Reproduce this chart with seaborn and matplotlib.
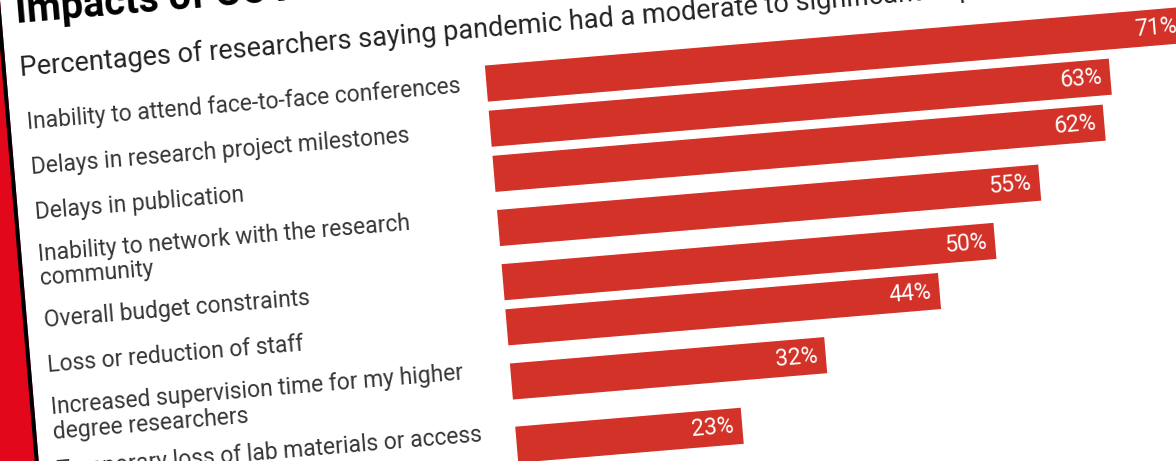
import matplotlib
matplotlib.use("Agg")
import matplotlib.pyplot as plt
import seaborn as sns
from matplotlib.transforms import Affine2D, blended_transform_factory
from matplotlib.patches import Rectangle

# ---------------- data ----------------
title = "Impacts of COVID-19 on research"
subtitle = ("Percentages of researchers saying pandemic had a moderate to "
            "significant impact on their research")
categories = [
    "Inability to attend face-to-face conferences",
    "Delays in research project milestones",
    "Delays in publication",
    "Inability to network with the research\ncommunity",
    "Overall budget constraints",
    "Loss or reduction of staff",
    "Increased supervision time for my higher\ndegree researchers",
    "Temporary loss of lab materials or access\nto facilities",
]
values = [71, 63, 62, 55, 50, 44, 32, 23]

# ---------------- style ----------------
W, H = 1176, 461
ANGLE = 4.8                     # the photographed screen is slightly tilted
BG_RED = "#E2071A"
BAR_RED = "#D33228"
LABEL_COL = "#363636"

sns.set_theme(style="white")
plt.rcParams["font.family"] = ["Roboto", "DejaVu Sans"]

# row layout: rows with wrapped labels get extra room
extra = [c.count("\n") for c in categories]
positions = [0.0]
for i in range(1, len(categories)):
    positions.append(positions[-1] + 1 + 0.2 * (extra[i - 1] + extra[i]))

fig = plt.figure(figsize=(W / 100, H / 100), dpi=100, facecolor=BG_RED)
rot = Affine2D().rotate_deg_around(0, H, ANGLE)

# background frame axes (pixel coords of the un-tilted chart)
bg = fig.add_axes([0, 0, 1, 1])
bg.set_xlim(0, W)
bg.set_ylim(H, 0)
bg.axis("off")
bg.patch.set_visible(False)
bg.add_patch(Rectangle((0, -800), 3000, 3000, facecolor="white",
                       edgecolor="none", transform=bg.transData + rot))
bg.add_patch(Rectangle((-4, -800), 4, 3000, facecolor="black",
                       edgecolor="none", transform=bg.transData + rot))

bg.text(14, 24, title, transform=bg.transData + rot, rotation=ANGLE,
        rotation_mode="anchor", ha="left", va="baseline", fontsize=28.5,
        fontweight="bold", color="black")
bg.text(14, 77.5, subtitle, transform=bg.transData + rot, rotation=ANGLE,
        rotation_mode="anchor", ha="left", va="baseline", fontsize=19.5,
        color="#222222")

# bar axes
unit = 45.3          # px per row unit
row0 = 124.0         # centre of the first row (px from top)
left_px = 477.0
px_per_pct = 9.9
n_units = positions[-1] + 1
top_u = row0 - 0.5 * unit
height_px = n_units * unit
bottom_disp = H - (top_u + height_px)
ax = fig.add_axes([left_px / W, bottom_disp / H,
                   100 * px_per_pct / W, height_px / H])
ax.patch.set_visible(False)

sns.barplot(x=values, y=positions, orient="y", native_scale=True,
            color=BAR_RED, saturation=1, width=0.83, errorbar=None, ax=ax)
ax.set_xlim(0, 100)
ax.set_ylim(positions[-1] + 0.5, -0.5)
ax.axis("off")

for p in ax.patches:
    p.set_transform(p.get_data_transform() + rot)
    p.set_clip_on(False)

lab_tr = blended_transform_factory(bg.transData, ax.transData) + rot
for lab, y, v in zip(categories, positions, values):
    ax.text(17, y, lab, transform=lab_tr, rotation=ANGLE,
            rotation_mode="anchor", ha="left", va="center", fontsize=16.5,
            color=LABEL_COL, linespacing=1.1, clip_on=False)
    ax.text(v - 0.9, y, f"{v}%", transform=ax.transData + rot,
            rotation=ANGLE, rotation_mode="anchor", ha="right",
            va="center", fontsize=16.5, color="white", clip_on=False)

fig.savefig("out.png", dpi=100, facecolor=fig.get_facecolor())
